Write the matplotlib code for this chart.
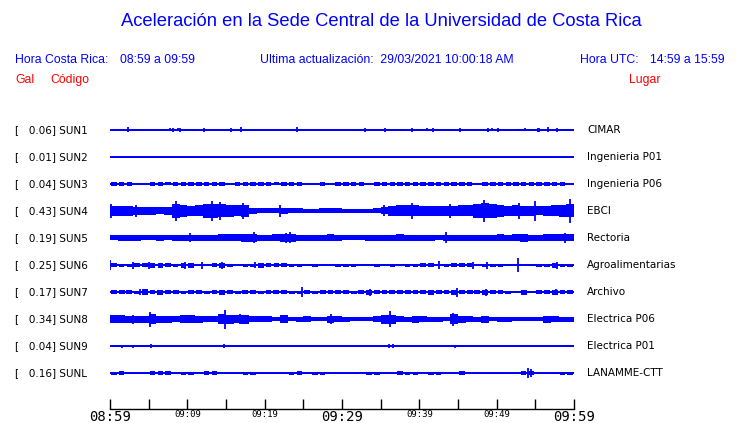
import numpy as np
import matplotlib
matplotlib.use("Agg")
import matplotlib.pyplot as plt
from matplotlib import transforms

# estaciones, valor maximo (Gal) y lugar
codigos = ["SUN1", "SUN2", "SUN3", "SUN4", "SUN5", "SUN6", "SUN7", "SUN8", "SUN9", "SUNL"]
gal_max = [0.06, 0.01, 0.04, 0.43, 0.19, 0.25, 0.17, 0.34, 0.04, 0.16]
lugares = ["CIMAR", "Ingenieria P01", "Ingenieria P06", "EBCI", "Rectoria",
           "Agroalimentarias", "Archivo", "Electrica P06", "Electrica P01", "LANAMME-CTT"]

# ruido de fondo continuo (media amplitud, px)
piso = [0.7, 0.7, 0.7, 2.0, 2.0, 0.7, 0.7, 2.0, 0.7, 0.7]

# envolvente minuto a minuto (media amplitud, px), 08:59 -> 09:59
env_sun1 = [0] * 60
env_sun2 = [0] * 60
env_sun3 = [2, 2, 2, 1, 0, 2, 2, 1.5, 2, 2, 2, 2, 2, 2, 2, 1, 2, 2, 2, 2,
            2, 1.5, 2, 2, 2, 1, 1, 2, 1, 2, 2, 2, 2, 0, 2, 2, 2, 2, 2, 2,
            2, 2, 2, 2, 2, 2, 2, 1, 2, 2, 2, 2, 2, 2, 2, 2, 2, 2, 2, 1]
env_sun4 = [5, 5, 5, 4, 4, 4, 3.5, 4, 7, 6, 5, 5.5, 7, 7, 6.5, 6, 5.5, 6, 3, 2.5,
            2.5, 2.5, 3, 2.5, 2.5, 1.5, 1.5, 2.5, 2.5, 2.5, 2, 2, 2, 2, 2.5, 3.5, 5, 5.5, 5.5, 5.5,
            5, 5, 5, 5, 5, 5.5, 5.5, 7, 7.5, 7, 6, 5, 5.5, 5, 5, 4.5, 5, 5.5, 6, 6.5]
env_sun5 = [2.5, 3, 3, 3, 2.5, 2.5, 3, 2.5, 3, 3, 3, 3, 3, 3, 3.5, 3.5, 3.5, 4, 4, 3,
            3, 3.5, 4, 4, 3, 3, 3, 3, 3.5, 3, 2.5, 2.5, 2.5, 3, 3, 3, 3, 3.5, 3, 3,
            3, 3, 2.5, 3, 3, 3, 3, 3, 3, 3, 3.5, 3, 3.5, 4, 3, 3, 3.5, 3.5, 3.5, 3.5]
env_sun6 = [2, 1.5, 1.5, 2, 2, 2.5, 2.5, 2, 1.5, 2.5, 2.5, 1, 0, 2, 2.5, 1.5, 1, 1.5, 1.5, 2.5,
            2, 2, 2, 1.5, 1.5, 1, 1.5, 1, 0, 1.5, 1.5, 1.5, 0, 1, 1.5, 1, 1.5, 1, 1.5, 1.5,
            2, 2, 1, 1.5, 2, 2, 2, 1, 1.5, 1.5, 1.5, 1, 1, 0, 1, 1.5, 1.5, 2.5, 1.5, 1.5]
env_sun7 = [2, 2, 2, 1.5, 3, 2, 2.5, 2, 2, 1.5, 2, 2, 1.5, 2, 2.5, 2, 1.5, 2, 2, 1.5,
            2, 2, 2, 1.5, 1.5, 2, 1.5, 2, 2, 2, 2, 1.5, 2, 2.5, 2, 2, 2, 2, 2, 2,
            2, 2.5, 2, 2, 2.5, 2, 2, 2, 2.5, 2, 2, 1.5, 1, 2.5, 1, 2, 2, 2.5, 2, 2]
env_sun8 = [4, 4, 3.5, 3.5, 3.5, 5, 3.5, 3.5, 3, 4, 4, 3.5, 3, 3, 5, 4.5, 4, 4.5, 3, 3,
            3, 2, 4, 2, 2.5, 3, 2, 2, 3.5, 3, 2.5, 2, 2, 2, 3, 4.5, 4.5, 3, 2.5, 3.5,
            3, 2.5, 2.5, 2, 5, 3.5, 3, 2.5, 3.5, 2, 2.5, 2.5, 2, 2, 2, 2, 3.5, 3, 2.5, 2.5]
env_sun9 = [0] * 60
env_sunl = [1.5, 2, 1, 1, 1, 2, 2, 2, 0, 1.5, 1.5, 1, 2, 2, 1, 1, 0, 1.5, 1.5, 1,
            0, 1, 0, 1.5, 2, 1, 1.5, 1.5, 0, 1, 1, 1, 1, 1.5, 1.5, 1, 1, 2, 1.5, 1.5,
            1, 1.5, 1.5, 1, 1, 2, 1, 1, 1, 1, 1, 1, 1, 2, 2, 0, 1, 1, 1.5, 1.5]

# picos aislados: (minuto, media amplitud px)
picos_sun1 = [(2.3, 2.5), (7.7, 1.5), (8.2, 2), (8.8, 1.5), (9.1, 2), (12.2, 2), (15.6, 2),
              (17.0, 2.5), (24.2, 2.5), (33.0, 2), (35.6, 2), (39.1, 2), (41.0, 1.5),
              (41.8, 2), (45.2, 2), (48.9, 2), (49.4, 1.5), (50.2, 2), (53.7, 1.5),
              (55.3, 2), (55.5, 2), (56.6, 2.5), (57.8, 2)]
picos_sun2 = []
picos_sun3 = []
picos_sun4 = [(0.1, 7), (3.3, 6), (8.5, 10), (13.2, 10), (14.2, 9), (17.2, 8), (22.0, 6),
              (35.4, 5.5), (39.0, 8), (44.0, 7), (48.3, 11), (52.9, 8), (55.0, 10), (59.5, 12)]
picos_sun5 = [(10.4, 4.5), (18.6, 5.5), (22.7, 5), (23.3, 5.5), (43.4, 5.5), (58.9, 5)]
picos_sun6 = [(0.0, 5), (3.0, 3.5), (5.1, 3.5), (9.7, 3.5), (11.9, 3.5), (14.5, 3.5),
              (18.8, 3), (42.5, 4), (47.0, 3.5), (48.8, 3.5), (52.7, 7), (57.8, 3.5)]
picos_sun7 = [(3.9, 3), (24.8, 5), (33.6, 3.5), (44.9, 4.5), (48.6, 3.5), (57.7, 3)]
picos_sun8 = [(3.0, 4.5), (5.2, 7.5), (14.9, 9.5), (16.8, 5), (28.6, 5), (36.2, 8),
              (44.4, 6.5), (48.7, 3.5), (56.9, 3.5)]
picos_sun9 = [(1.5, 1.5), (3.0, 1.5), (5.3, 2), (14.8, 2), (36.1, 2), (36.6, 2),
              (44.6, 1.5), (57.0, 1)]
picos_sunl = [(54.1, 5), (54.4, 4)]

envolventes = [env_sun1, env_sun2, env_sun3, env_sun4, env_sun5,
               env_sun6, env_sun7, env_sun8, env_sun9, env_sunl]
picos = [picos_sun1, picos_sun2, picos_sun3, picos_sun4, picos_sun5,
         picos_sun6, picos_sun7, picos_sun8, picos_sun9, picos_sunl]

tick_min = [0, 10, 20, 30, 40, 50, 60]
tick_txt = ["08:59", "09:09", "09:19", "09:29", "09:39", "09:49", "09:59"]
tick_grande = [True, False, False, True, False, False, True]

W, H = 740, 423
fig = plt.figure(figsize=(W / 100, H / 100), dpi=100)
azul = "#0000ff"

def px(x, y):
    return x / W, 1 - y / H

ax = fig.add_axes([110 / W, 14 / H, 464 / W, 294 / H])
ax.set_xlim(0, 60)
ax.set_ylim(-279, 15)

# ancho de bloque: trazas fuertes continuas, debiles entrecortadas
ancho = [0.7, 0.7, 0.7, 1.0, 1.0, 0.7, 0.75, 1.0, 0.7, 0.7]

minutos = np.arange(60) + 0.5
for i in range(len(codigos)):
    y0 = -27 * i
    ax.fill_between([0, 60], y0 - piso[i], y0 + piso[i], color=azul, lw=0)
    env = np.array(envolventes[i], dtype=float)
    ax.bar(minutos, 2 * env, bottom=y0 - env, width=ancho[i], color=azul, lw=0)
    if picos[i]:
        t, a = zip(*picos[i])
        a = np.array(a)
        ax.vlines(t, y0 - a, y0 + a, color=azul, lw=1.3)

for s in ["left", "right", "top"]:
    ax.spines[s].set_visible(False)
ax.spines["bottom"].set_linewidth(1.0)
ax.set_yticks([])
ax.set_xticks(tick_min, tick_txt, fontfamily="DejaVu Sans Mono")
ax.set_xticks(np.arange(5, 60, 10), minor=True)
ax.tick_params(axis="x", which="both", direction="in", length=7, width=1, pad=1)
for lab, grande in zip(ax.get_xticklabels(), tick_grande):
    lab.set_fontsize(10 if grande else 6.5)

# etiquetas de estaciones
tr = transforms.blended_transform_factory(fig.transFigure, ax.transData)
for i in range(len(codigos)):
    y0 = -27 * i
    ax.text(15 / W, y0, "[   %.2f] %s" % (gal_max[i], codigos[i]), transform=tr,
            fontsize=7.5, va="center", ha="left", clip_on=False)
    ax.text(587 / W, y0, lugares[i], transform=tr,
            fontsize=7.5, va="center", ha="left", clip_on=False)

# encabezado
enc = dict(family="Liberation Sans", color=azul, va="center")
fig.text(*px(381, 22), "Aceleración en la Sede Central de la Universidad de Costa Rica",
         ha="center", fontsize=13.2, **enc)
fig.text(*px(15, 60), "Hora Costa Rica:", fontsize=8.8, **enc)
fig.text(*px(120, 60), "08:59 a 09:59", fontsize=8.8, **enc)
fig.text(*px(260, 60), "Ultima actualización:  29/03/2021 10:00:18 AM", fontsize=8.8, **enc)
fig.text(*px(580, 60), "Hora UTC:", fontsize=8.8, **enc)
fig.text(*px(650, 60), "14:59 a 15:59", fontsize=8.8, **enc)
rojo = dict(family="Liberation Sans", color="red", va="center", fontsize=8.8)
fig.text(*px(15, 80), "Gal", **rojo)
fig.text(*px(50, 80), "Código", **rojo)
fig.text(*px(629, 80), "Lugar", **rojo)

fig.savefig("out.png", dpi=100)
